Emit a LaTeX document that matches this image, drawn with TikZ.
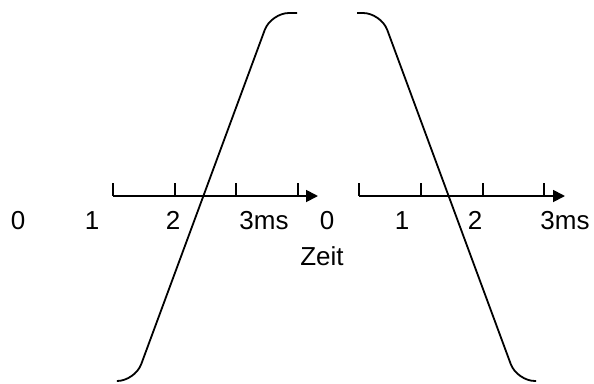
\documentclass[tikz,border=0pt]{standalone}
\usepackage{fontspec}
\setmainfont{Liberation Sans}
\usetikzlibrary{arrows.meta}
\begin{document}
\begin{tikzpicture}[x=1pt,y=-1pt,
  curve/.style={line width=1.8pt,rounded corners=18pt},
  axis/.style={line width=1.8pt,-{Triangle[length=12pt,width=12pt]}},
  tick/.style={line width=1.8pt},
  lab/.style={anchor=base,inner sep=0pt,font=\fontsize{26}{30}\selectfont}]
\useasboundingbox (0,0) rectangle (594,383);
% curves
\coordinate (la) at (297,13);
\coordinate (lb) at (271,13);
\coordinate (lc) at (135,381);
\coordinate (ld) at (118,381);
\draw[curve] (la) -- (lb) -- (lc) -- (ld);
\coordinate (ra) at (357,13);
\coordinate (rb) at (381,13);
\coordinate (rc) at (517,381);
\coordinate (rd) at (536,381);
\draw[curve] (ra) -- (rb) -- (rc) -- (rd);
% left axis
\coordinate (a0) at (113,196);
\coordinate (a1) at (318,196);
\draw[axis] (a0) -- (a1);
\foreach \x in {113,175,236,298} \draw[tick] (\x,183) -- (\x,196);
% right axis
\coordinate (b0) at (359,196);
\coordinate (b1) at (565,196);
\draw[axis] (b0) -- (b1);
\foreach \x in {359,421,483,544} \draw[tick] (\x,183) -- (\x,196);
% labels
\node[lab] (l0) at (18,229) {0};
\node[lab] (l1) at (92,229) {1};
\node[lab] (l2) at (173,229) {2};
\node[lab] (l3) at (264,229) {3ms};
\node[lab] (r0) at (327,229) {0};
\node[lab] (r1) at (402,229) {1};
\node[lab] (r2) at (475,229) {2};
\node[lab] (r3) at (565,229) {3ms};
\node[lab] (zeit) at (322,265) {Zeit};
\end{tikzpicture}
\end{document}
